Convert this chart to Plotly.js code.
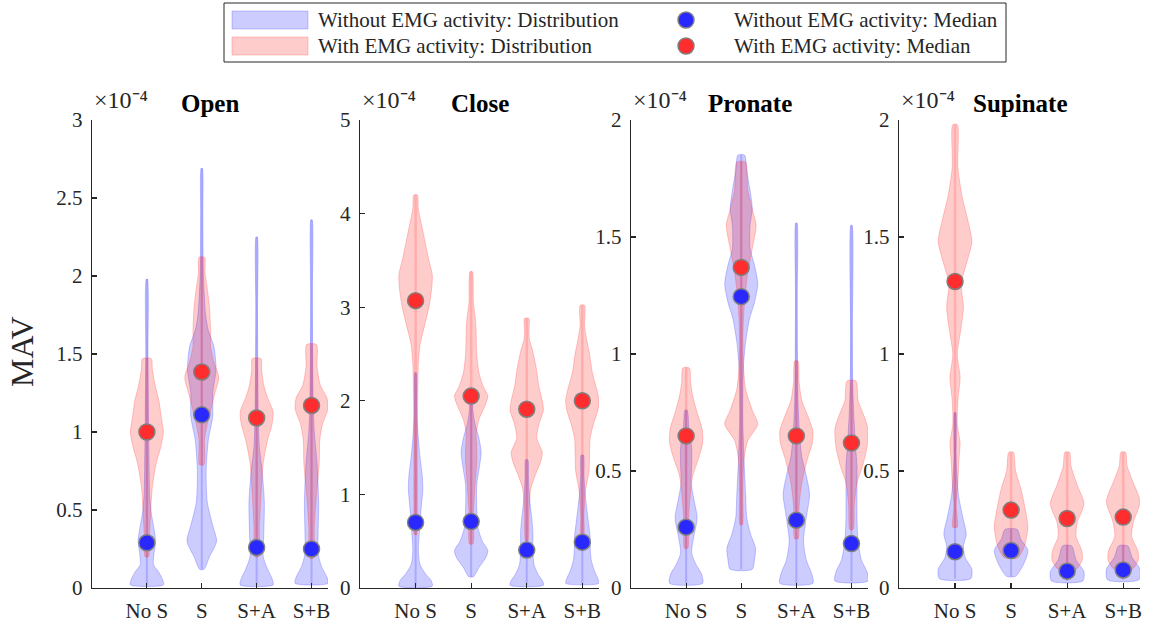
<!DOCTYPE html>
<html><head><meta charset="utf-8">
<script src="https://cdn.plot.ly/plotly-3.0.1.min.js"></script>
<style>html,body{margin:0;padding:0;background:#fff}</style>
</head><body><div id="chart" style="width:1150px;height:622px"></div>
<script>
// ---------------- DATA (MAV values in units of 1e-4) ----------------
const categories = ['No S', 'S', 'S+A', 'S+B'];
const panelTitles = ['Open', 'Close', 'Pronate', 'Supinate'];
const exponentLabel = '×10⁻⁴';

const openTickVals = [0, 0.5, 1, 1.5, 2, 2.5, 3];
const openTickText = ['0', '0.5', '1', '1.5', '2', '2.5', '3'];
const closeTickVals = [0, 1, 2, 3, 4, 5];
const closeTickText = ['0', '1', '2', '3', '4', '5'];
const pronateTickVals = [0, 0.5, 1, 1.5, 2];
const pronateTickText = ['0', '0.5', '1', '1.5', '2'];
const supinateTickVals = [0, 0.5, 1, 1.5, 2];
const supinateTickText = ['0', '0.5', '1', '1.5', '2'];
const yMax = [3, 5, 2, 2];

// medians
const openWithoutMed = [0.29, 1.11, 0.26, 0.25];
const openWithMed = [1.00, 1.385, 1.09, 1.17];
const closeWithoutMed = [0.70, 0.71, 0.405, 0.49];
const closeWithMed = [3.07, 2.05, 1.91, 2.00];
const pronateWithoutMed = [0.26, 1.245, 0.29, 0.19];
const pronateWithMed = [0.65, 1.37, 0.65, 0.62];
const supinateWithoutMed = [0.155, 0.16, 0.072, 0.077];
const supinateWithMed = [1.31, 0.333, 0.297, 0.303];

// density profiles: levels (Y) and relative half widths (W)
const openWithoutY = [
  [0.02, 0.05, 0.10, 0.15, 0.22, 0.30, 0.38, 0.48, 0.60, 0.80, 1.10, 1.50, 1.98],
  [0.12, 0.20, 0.30, 0.40, 0.55, 0.75, 0.95, 1.10, 1.25, 1.40, 1.55, 1.65, 1.75, 2.00, 2.40, 2.69],
  [0.02, 0.06, 0.12, 0.20, 0.35, 0.55, 0.75, 0.90, 1.10, 1.40, 1.80, 2.25],
  [0.03, 0.07, 0.14, 0.22, 0.35, 0.55, 0.80, 1.00, 1.20, 1.50, 1.90, 2.36]];
const openWithoutW = [
  [0.30, 0.29, 0.22, 0.12, 0.13, 0.16, 0.13, 0.08, 0.05, 0.04, 0.03, 0.02, 0.01],
  [0.04, 0.14, 0.27, 0.20, 0.10, 0.08, 0.12, 0.20, 0.20, 0.26, 0.22, 0.12, 0.07, 0.03, 0.02, 0.01],
  [0.30, 0.28, 0.20, 0.12, 0.13, 0.14, 0.10, 0.05, 0.03, 0.02, 0.015, 0.01],
  [0.30, 0.28, 0.18, 0.12, 0.12, 0.13, 0.10, 0.05, 0.03, 0.02, 0.015, 0.01]];
const openWithY = [
  [0.20, 0.35, 0.50, 0.65, 0.80, 0.90, 1.00, 1.10, 1.20, 1.30, 1.40, 1.47],
  [0.79, 0.95, 1.05, 1.15, 1.25, 1.35, 1.45, 1.55, 1.65, 1.80, 1.92, 2.02, 2.12],
  [0.20, 0.40, 0.60, 0.80, 0.95, 1.05, 1.13, 1.22, 1.30, 1.40, 1.47],
  [0.19, 0.40, 0.60, 0.80, 0.95, 1.05, 1.15, 1.22, 1.30, 1.42, 1.56]];
const openWithW = [
  [0.03, 0.05, 0.07, 0.10, 0.17, 0.25, 0.30, 0.26, 0.22, 0.15, 0.10, 0.08],
  [0.04, 0.05, 0.10, 0.17, 0.24, 0.31, 0.22, 0.16, 0.16, 0.14, 0.10, 0.06, 0.05],
  [0.03, 0.05, 0.08, 0.12, 0.20, 0.28, 0.30, 0.20, 0.13, 0.09, 0.08],
  [0.03, 0.05, 0.09, 0.14, 0.15, 0.20, 0.30, 0.28, 0.16, 0.10, 0.09]];

const closeWithoutY = [
  [0.02, 0.08, 0.15, 0.25, 0.40, 0.60, 0.85, 1.05, 1.20, 1.40, 1.60, 1.90, 2.30],
  [0.12, 0.22, 0.32, 0.40, 0.50, 0.65, 0.85, 1.10, 1.30, 1.45, 1.60, 1.75, 1.90, 2.00],
  [0.03, 0.08, 0.15, 0.25, 0.40, 0.60, 0.75, 0.90, 1.05, 1.20, 1.37],
  [0.05, 0.10, 0.18, 0.30, 0.45, 0.55, 0.70, 0.85, 1.00, 1.20, 1.42]];
const closeWithoutW = [
  [0.30, 0.28, 0.18, 0.08, 0.05, 0.07, 0.10, 0.13, 0.12, 0.08, 0.05, 0.02, 0.01],
  [0.04, 0.14, 0.26, 0.30, 0.20, 0.12, 0.10, 0.10, 0.15, 0.18, 0.14, 0.07, 0.03, 0.02],
  [0.30, 0.28, 0.20, 0.13, 0.11, 0.11, 0.09, 0.06, 0.04, 0.03, 0.02],
  [0.30, 0.28, 0.22, 0.16, 0.14, 0.14, 0.11, 0.08, 0.05, 0.03, 0.02]];
const closeWithY = [
  [0.57, 0.90, 1.30, 1.70, 2.10, 2.40, 2.60, 2.80, 3.00, 3.20, 3.35, 3.50, 3.70, 3.90, 4.05, 4.20],
  [0.47, 0.80, 1.10, 1.35, 1.50, 1.65, 1.80, 1.95, 2.05, 2.15, 2.30, 2.50, 2.70, 2.85, 3.05, 3.38],
  [0.50, 0.80, 1.05, 1.20, 1.35, 1.45, 1.60, 1.75, 1.90, 2.00, 2.15, 2.35, 2.55, 2.65, 2.75, 2.88],
  [0.50, 0.80, 1.05, 1.25, 1.45, 1.60, 1.75, 1.90, 2.00, 2.10, 2.30, 2.50, 2.65, 2.80, 3.02]];
const closeWithW = [
  [0.02, 0.03, 0.03, 0.03, 0.04, 0.05, 0.08, 0.16, 0.24, 0.29, 0.30, 0.24, 0.17, 0.10, 0.05, 0.03],
  [0.03, 0.04, 0.07, 0.10, 0.10, 0.09, 0.14, 0.25, 0.30, 0.22, 0.14, 0.10, 0.09, 0.08, 0.04, 0.02],
  [0.02, 0.04, 0.07, 0.15, 0.25, 0.28, 0.18, 0.22, 0.30, 0.28, 0.22, 0.17, 0.10, 0.05, 0.04, 0.04],
  [0.02, 0.03, 0.06, 0.12, 0.13, 0.14, 0.20, 0.28, 0.30, 0.27, 0.18, 0.13, 0.08, 0.04, 0.04]];

const pronateWithoutY = [
  [0.02, 0.06, 0.10, 0.15, 0.22, 0.30, 0.38, 0.45, 0.52, 0.60, 0.68, 0.76],
  [0.08, 0.12, 0.17, 0.23, 0.30, 0.40, 0.55, 0.70, 0.85, 0.95, 1.05, 1.15, 1.22, 1.30, 1.38, 1.45, 1.55, 1.62, 1.70, 1.78, 1.85],
  [0.02, 0.06, 0.12, 0.20, 0.30, 0.40, 0.48, 0.56, 0.65, 0.80, 1.00, 1.25, 1.56],
  [0.03, 0.07, 0.12, 0.20, 0.30, 0.42, 0.52, 0.62, 0.75, 0.90, 1.10, 1.55]];
const pronateWithoutW = [
  [0.30, 0.28, 0.18, 0.10, 0.14, 0.20, 0.14, 0.09, 0.10, 0.10, 0.05, 0.02],
  [0.20, 0.24, 0.26, 0.17, 0.10, 0.08, 0.05, 0.03, 0.03, 0.04, 0.08, 0.15, 0.24, 0.30, 0.24, 0.16, 0.16, 0.20, 0.16, 0.10, 0.06],
  [0.30, 0.28, 0.18, 0.13, 0.18, 0.24, 0.18, 0.10, 0.06, 0.03, 0.02, 0.015, 0.01],
  [0.30, 0.28, 0.18, 0.12, 0.10, 0.10, 0.10, 0.07, 0.04, 0.02, 0.015, 0.01]];
const pronateWithY = [
  [0.17, 0.28, 0.38, 0.48, 0.55, 0.62, 0.68, 0.75, 0.82, 0.88, 0.94],
  [0.27, 0.40, 0.55, 0.63, 0.70, 0.76, 0.85, 0.95, 1.05, 1.15, 1.25, 1.35, 1.45, 1.55, 1.62, 1.70, 1.82],
  [0.21, 0.35, 0.45, 0.55, 0.62, 0.67, 0.74, 0.80, 0.88, 0.97],
  [0.25, 0.35, 0.45, 0.52, 0.60, 0.68, 0.74, 0.80, 0.885]];
const pronateWithW = [
  [0.03, 0.04, 0.07, 0.12, 0.22, 0.30, 0.29, 0.20, 0.12, 0.08, 0.06],
  [0.02, 0.03, 0.05, 0.12, 0.30, 0.20, 0.08, 0.04, 0.03, 0.04, 0.07, 0.12, 0.20, 0.27, 0.20, 0.12, 0.08],
  [0.03, 0.05, 0.10, 0.20, 0.29, 0.30, 0.20, 0.10, 0.05, 0.03],
  [0.03, 0.05, 0.10, 0.20, 0.28, 0.30, 0.22, 0.12, 0.08]];

const supinateWithoutY = [
  [0.04, 0.08, 0.13, 0.18, 0.23, 0.30, 0.40, 0.55, 0.75],
  [0.05, 0.10, 0.16, 0.21, 0.25],
  [0.03, 0.07, 0.12, 0.18],
  [0.035, 0.08, 0.13, 0.18]];
const supinateWithoutW = [
  [0.28, 0.30, 0.18, 0.15, 0.20, 0.14, 0.06, 0.02, 0.01],
  [0.08, 0.22, 0.30, 0.17, 0.11],
  [0.28, 0.30, 0.16, 0.08],
  [0.28, 0.30, 0.16, 0.08]];
const supinateWithY = [
  [0.26, 0.35, 0.45, 0.55, 0.62, 0.70, 0.80, 0.90, 1.00, 1.10, 1.20, 1.30, 1.40, 1.48, 1.58, 1.68, 1.80, 1.98],
  [0.13, 0.18, 0.26, 0.34, 0.42, 0.50, 0.58],
  [0.08, 0.12, 0.16, 0.22, 0.28, 0.36, 0.44, 0.52, 0.58],
  [0.08, 0.12, 0.16, 0.22, 0.28, 0.37, 0.45, 0.52, 0.58]];
const supinateWithW = [
  [0.04, 0.02, 0.05, 0.07, 0.09, 0.04, 0.05, 0.09, 0.04, 0.10, 0.15, 0.11, 0.22, 0.30, 0.22, 0.12, 0.05, 0.04],
  [0.12, 0.24, 0.30, 0.25, 0.18, 0.08, 0.04],
  [0.16, 0.27, 0.26, 0.16, 0.18, 0.30, 0.18, 0.07, 0.04],
  [0.16, 0.27, 0.26, 0.15, 0.18, 0.30, 0.18, 0.07, 0.04]];

const legendLabels = ['Without EMG activity: Distribution', 'With EMG activity: Distribution',
                      'Without EMG activity: Median', 'With EMG activity: Median'];

// ---------------- BUILD ----------------
const panels = [
  {woY: openWithoutY, woW: openWithoutW, wY: openWithY, wW: openWithW, woM: openWithoutMed, wM: openWithMed, tv: openTickVals, tt: openTickText},
  {woY: closeWithoutY, woW: closeWithoutW, wY: closeWithY, wW: closeWithW, woM: closeWithoutMed, wM: closeWithMed, tv: closeTickVals, tt: closeTickText},
  {woY: pronateWithoutY, woW: pronateWithoutW, wY: pronateWithY, wW: pronateWithW, woM: pronateWithoutMed, wM: pronateWithMed, tv: pronateTickVals, tt: pronateTickText},
  {woY: supinateWithoutY, woW: supinateWithoutW, wY: supinateWithY, wW: supinateWithW, woM: supinateWithoutMed, wM: supinateWithMed, tv: supinateTickVals, tt: supinateTickText}
];

const W = 1150, H = 622;
const px = v => v / W, py = v => 1 - v / H;
const domPx = [[92, 328], [360, 599], [631, 868], [899, 1140]];
const yTopPx = 120, yBotPx = 588;
const FONT = 'Liberation Serif, Times New Roman, serif';
const AX = '#262626';

const BLUE_FILL = 'rgba(0,0,255,0.2)', BLUE_EDGE = 'rgba(60,60,255,0.28)';
const RED_FILL = 'rgba(255,0,0,0.2)', RED_EDGE = 'rgba(255,60,60,0.28)';
const BLUE_DOT = 'rgb(40,40,255)', RED_DOT = 'rgb(255,45,45)';

function violin(c, ys, ws, fill, edge, xa, ya) {
  const x = [], y = [];
  for (let i = 0; i < ys.length; i++) { x.push(c + ws[i]); y.push(ys[i]); }
  for (let i = ys.length - 1; i >= 0; i--) { x.push(c - ws[i]); y.push(ys[i]); }
  x.push(x[0]); y.push(y[0]);
  return {type: 'scatter', mode: 'lines', x, y, fill: 'toself', fillcolor: fill,
    line: {color: edge, width: 1, shape: 'spline', smoothing: 0.7},
    xaxis: xa, yaxis: ya, hoverinfo: 'skip', showlegend: false};
}
function whisker(c, ys, color, w, xa, ya) {
  return {type: 'scatter', mode: 'lines', x: [c, c], y: [ys[0], ys[ys.length - 1]],
    line: {color, width: w}, xaxis: xa, yaxis: ya, hoverinfo: 'skip', showlegend: false};
}

const traces = [], dots = [];
const layout = {
  width: W, height: H, margin: {l: 0, r: 0, t: 0, b: 0},
  paper_bgcolor: '#fff', plot_bgcolor: 'rgba(0,0,0,0)', showlegend: false,
  font: {family: FONT, color: AX, size: 20},
  annotations: [], shapes: []
};

panels.forEach((p, k) => {
  const sfx = k === 0 ? '' : String(k + 1);
  const xa = 'x' + sfx, ya = 'y' + sfx;
  categories.forEach((cat, i) => {
    const c = i + 1;
    traces.push(violin(c, p.woY[i], p.woW[i], BLUE_FILL, BLUE_EDGE, xa, ya));
    traces.push(whisker(c, p.woY[i], 'rgba(80,80,255,0.28)', 2, xa, ya));
  });
  categories.forEach((cat, i) => {
    const c = i + 1;
    traces.push(violin(c, p.wY[i], p.wW[i], RED_FILL, RED_EDGE, xa, ya));
    traces.push(whisker(c, p.wY[i], 'rgba(255,80,80,0.25)', 2.5, xa, ya));
  });
  const cx = categories.map((_, i) => i + 1);
  dots.push({type: 'scatter', mode: 'markers', x: cx, y: p.woM, xaxis: xa, yaxis: ya,
    marker: {size: 16, color: BLUE_DOT, line: {color: '#7f7f7f', width: 1.5}}, hoverinfo: 'skip', showlegend: false});
  dots.push({type: 'scatter', mode: 'markers', x: cx, y: p.wM, xaxis: xa, yaxis: ya,
    marker: {size: 16, color: RED_DOT, line: {color: '#7f7f7f', width: 1.5}}, hoverinfo: 'skip', showlegend: false});

  layout['xaxis' + sfx] = {
    domain: [px(domPx[k][0]), px(domPx[k][1])], anchor: ya, range: [0, 4.3],
    tickvals: cx, ticktext: categories, ticks: 'inside', ticklen: 5, tickwidth: 1.2, tickcolor: AX,
    showline: true, linecolor: AX, linewidth: 1.3, showgrid: false, zeroline: false,
    tickfont: {family: FONT, size: 21, color: AX}, ticklabelstandoff: 3, fixedrange: true
  };
  layout['yaxis' + sfx] = {
    domain: [py(yBotPx), py(yTopPx)], anchor: xa, range: [0, yMax[k]],
    tickvals: p.tv, ticktext: p.tt, ticks: 'inside', ticklen: 5, tickwidth: 1.2, tickcolor: AX,
    showline: true, linecolor: AX, linewidth: 1.3, showgrid: false, zeroline: false,
    tickfont: {family: FONT, size: 21, color: AX}, ticklabelstandoff: 4, fixedrange: true
  };
  const mid = (domPx[k][0] + domPx[k][1]) / 2;
  layout.annotations.push({xref: 'paper', yref: 'paper', x: px(mid), y: py(103), xanchor: 'center', yanchor: 'middle',
    text: panelTitles[k], showarrow: false, font: {family: FONT, size: 25, color: '#000', weight: 'bold'}});
  layout.annotations.push({xref: 'paper', yref: 'paper', x: px(domPx[k][0]), y: py(100), xanchor: 'left', yanchor: 'middle',
    text: exponentLabel, showarrow: false, font: {family: FONT, size: 24, color: AX}});
});

layout.annotations.push({xref: 'paper', yref: 'paper', x: px(22), y: py(352), xanchor: 'center', yanchor: 'middle',
  text: 'MAV', textangle: -90, showarrow: false, font: {family: FONT, size: 32, color: AX}});

// manual legend
layout.shapes.push({type: 'rect', xref: 'paper', yref: 'paper', x0: px(224), x1: px(1006), y0: py(62), y1: py(3),
  line: {color: AX, width: 1}, fillcolor: '#fff', layer: 'above'});
const rows = [20, 46];
[[BLUE_FILL, 'rgba(60,60,255,0.25)'], [RED_FILL, 'rgba(255,60,60,0.25)']].forEach((c, r) => {
  layout.shapes.push({type: 'rect', xref: 'paper', yref: 'paper', x0: px(232), x1: px(308), y0: py(rows[r] + 9), y1: py(rows[r] - 9),
    fillcolor: c[0], line: {color: c[1], width: 1}, layer: 'above'});
});
[BLUE_DOT, RED_DOT].forEach((c, r) => {
  layout.shapes.push({type: 'circle', xref: 'paper', yref: 'paper', x0: px(686 - 8), x1: px(686 + 8), y0: py(rows[r] + 8), y1: py(rows[r] - 8),
    fillcolor: c, line: {color: '#7f7f7f', width: 1.5}, layer: 'above'});
});
[[316, rows[0], 0], [316, rows[1], 1], [732, rows[0], 2], [732, rows[1], 3]].forEach(d => {
  layout.annotations.push({xref: 'paper', yref: 'paper', x: px(d[0]), y: py(d[1]), xanchor: 'left', yanchor: 'middle',
    text: legendLabels[d[2]], showarrow: false, font: {family: FONT, size: 21, color: AX}});
});

Plotly.newPlot('chart', traces.concat(dots), layout, {staticPlot: true, displayModeBar: false});
</script></body></html>
